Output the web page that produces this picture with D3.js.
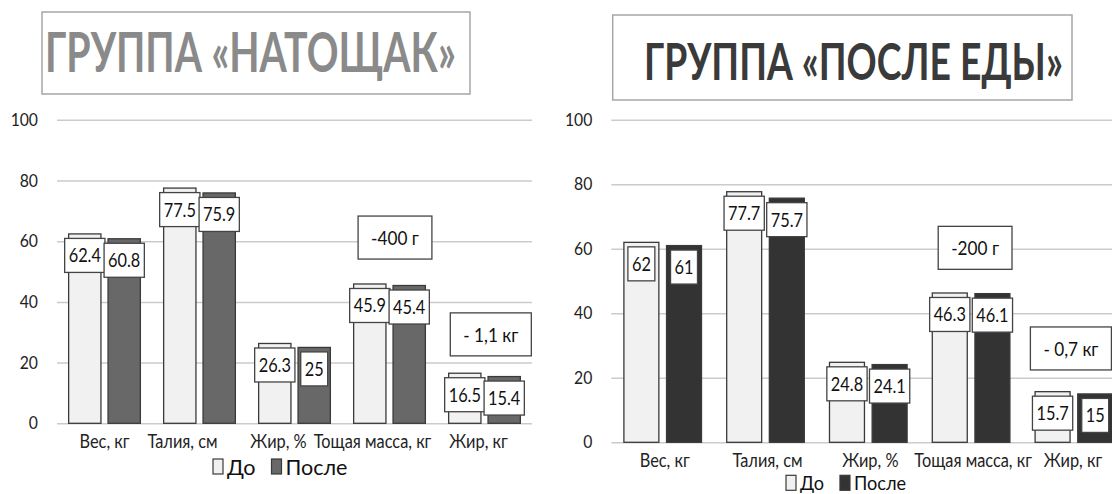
<!DOCTYPE html>
<html>
<head>
<meta charset="utf-8">
<script src="https://cdn.jsdelivr.net/npm/d3@7"></script>
<style>
  html, body { margin: 0; padding: 0; background: #fff; }
  svg { display: block; font-family: Lato, "Open Sans", sans-serif; }
</style>
</head>
<body>
<svg id="chart" width="1112" height="494"></svg>
<script>
// ---- data ----
const categories = ["Вес, кг", "Талия, см", "Жир, %", "Тощая масса, кг", "Жир, кг"];
const seriesNames = ["До", "После"];
const yTicks = [0, 20, 40, 60, 80, 100];

const fastingTitle = "ГРУППА «НАТОЩАК»";
const fastingBefore = [62.4, 77.5, 26.3, 45.9, 16.5];
const fastingAfter  = [60.8, 75.9, 25, 45.4, 15.4];

const fedTitle = "ГРУППА «ПОСЛЕ ЕДЫ»";
const fedBefore = [62, 77.7, 24.8, 46.3, 15.7];
const fedAfter  = [61, 75.7, 24.1, 46.1, 15];

// callouts: text, the category they sit over, and the value level they sit at
const noteCategories = ["Тощая масса, кг", "Жир, кг"];
const fastingNotes = ["-400 г", "- 1,1 кг"];
const fastingNoteLevels = [61.2, 29.3];
const fedNotes = ["-200 г", "- 0,7 кг"];
const fedNoteLevels = [60.3, 29.1];

// ---- layout / style of the two panels ----
const panels = [
  {
    title: fastingTitle, before: fastingBefore, after: fastingAfter,
    notes: fastingNotes, noteLevels: fastingNoteLevels,
    xRange: [57, 532], yRange: [423.3, 119.8],
    titleBox: { x: 42, y: 12, w: 428, h: 82 },
    titleText: { x: 45, base: 71.5, w: 411, size: 56, color: "#8a8a8a" },
    afterFill: "#686868",
    labelShift: [0, -17, -16, -17, -6], labelY: 441.5,
    legend: { x: 213, cy: 466.5, size: 22 },
    noteDx: [5.5, 6.3]
  },
  {
    title: fedTitle, before: fedBefore, after: fedAfter,
    notes: fedNotes, noteLevels: fedNoteLevels,
    xRange: [611.3, 1125.3], yRange: [442.3, 119.8],
    titleBox: { x: 612.7, y: 15, w: 459.3, h: 85 },
    titleText: { x: 644, base: 79.5, w: 419, size: 51, color: "#3a3a3a" },
    afterFill: "#333333",
    labelShift: [2, 2, 2, 2, -1], labelY: 460,
    legend: { x: 786, cy: 482.8, size: 18.5 },
    noteDx: [4, -3]
  }
];

// narrow a text horizontally by k around its own anchor point
function squeeze(sel, k) {
  sel.each(function () {
    const t = d3.select(this);
    const x = +(t.attr("x") || 0);
    const dxAttr = t.attr("dx");
    const dx = dxAttr ? parseFloat(dxAttr) : 0;
    t.attr("x", x / k).attr("dx", dx / k).attr("transform", `scale(${k},1)`);
    this.__w = this.getComputedTextLength() * k;
  });
}

const svg = d3.select("#chart");

panels.forEach(p => {
  const g = svg.append("g");

  const x0 = d3.scaleBand().domain(categories).range(p.xRange)
    .paddingInner(0.245).paddingOuter(0.1225);
  const x1 = d3.scaleBand().domain(seriesNames).range([0, x0.bandwidth()]).paddingInner(0.18);
  const y = d3.scaleLinear().domain([0, 100]).range(p.yRange);

  // title
  g.append("rect")
    .attr("x", p.titleBox.x).attr("y", p.titleBox.y)
    .attr("width", p.titleBox.w).attr("height", p.titleBox.h)
    .attr("fill", "#fff").attr("stroke", "#a6a6a6").attr("stroke-width", 1.5);
  const tg = g.append("g").attr("transform", `translate(${p.titleText.x},${p.titleText.base})`);
  const tt = tg.append("text")
    .attr("font-size", p.titleText.size).attr("font-weight", 700)
    .attr("fill", p.titleText.color)
    .text(p.title);
  tt.call(squeeze, p.titleText.w / tt.node().getComputedTextLength());

  // value axis with gridlines
  const plotW = p.xRange[1] - p.xRange[0];
  const yAxis = g.append("g")
    .attr("transform", `translate(${p.xRange[0]},0)`)
    .call(d3.axisLeft(y).tickValues(yTicks).tickSize(-plotW).tickPadding(19));
  yAxis.select(".domain").remove();
  yAxis.selectAll(".tick line").attr("stroke", "#cbcbcb").attr("stroke-width", 1.5);
  yAxis.selectAll(".tick text")
    .attr("font-family", "Lato, 'Open Sans', sans-serif")
    .attr("font-size", 17.5).attr("fill", "#222")
    .call(squeeze, 0.9);

  // category axis
  const xAxis = g.append("g")
    .attr("transform", `translate(0,${p.labelY})`)
    .call(d3.axisBottom(x0).tickSize(0).tickPadding(0));
  xAxis.select(".domain").remove();
  xAxis.selectAll(".tick text")
    .attr("font-family", "Lato, 'Open Sans', sans-serif")
    .attr("font-size", 19).attr("fill", "#222")
    .attr("y", 0).attr("dy", null)
    .attr("dominant-baseline", "central")
    .attr("dx", (d, i) => p.labelShift[i])
    .call(squeeze, 0.86);

  // bars
  const rows = categories.map((c, i) => ({ cat: c, vals: [
    { s: "До", v: p.before[i] }, { s: "После", v: p.after[i] }] }));
  const fills = { "До": "#f1f1f1", "После": p.afterFill };

  const groups = g.append("g").selectAll("g").data(rows).join("g")
    .attr("transform", d => `translate(${x0(d.cat)},0)`);

  groups.selectAll("rect").data(d => d.vals).join("rect")
    .attr("x", d => x1(d.s)).attr("width", x1.bandwidth())
    .attr("y", d => y(d.v)).attr("height", d => y(0) - y(d.v))
    .attr("fill", d => fills[d.s]).attr("stroke", "#3a3a3a").attr("stroke-width", 1.3);

  // value labels in boxes near the bar tops
  const lab = groups.selectAll("g.lab").data(d => d.vals).join("g").attr("class", "lab")
    .attr("transform", d => `translate(${x1(d.s) + x1.bandwidth() / 2},${y(d.v) + 21.5})`);
  lab.append("rect").attr("fill", "#fff").attr("stroke", "#444").attr("stroke-width", 1.3);
  lab.append("text")
    .attr("text-anchor", "middle").attr("dominant-baseline", "central")
    .attr("font-size", 19).attr("fill", "#111")
    .text(d => d.v)
    .call(squeeze, 0.86);
  lab.each(function () {
    const w = d3.select(this).select("text").node().__w;
    d3.select(this).select("rect")
      .attr("x", -w / 2 - 4).attr("y", -17).attr("width", w + 8).attr("height", 34);
  });

  // callouts
  p.notes.forEach((txt, i) => {
    const cx = x0(noteCategories[i]) + x0.bandwidth() / 2 + p.noteDx[i];
    const ng = g.append("g").attr("transform", `translate(${cx},${y(p.noteLevels[i])})`);
    const r = ng.append("rect").attr("fill", "#fff").attr("stroke", "#444").attr("stroke-width", 1.3);
    const t = ng.append("text")
      .attr("text-anchor", "middle").attr("dominant-baseline", "central")
      .attr("font-size", 20).attr("fill", "#111").text(txt).call(squeeze, 0.86);
    const w = t.node().__w;
    r.attr("x", -w / 2 - 13).attr("y", -21.5).attr("width", w + 26).attr("height", 43);
  });

  // legend
  const lg = g.append("g").attr("transform", `translate(${p.legend.x},${p.legend.cy})`);
  let lx = 0;
  seriesNames.forEach(s => {
    lg.append("rect").attr("x", lx).attr("y", -7.5).attr("width", 10).attr("height", 15)
      .attr("fill", fills[s]).attr("stroke", "#3a3a3a").attr("stroke-width", 1.2);
    const t = lg.append("text").attr("x", lx + 14).attr("dominant-baseline", "central")
      .attr("font-size", p.legend.size).attr("fill", "#111").text(s).call(squeeze, 0.98);
    lx += 14 + t.node().__w + 16;
  });
});
</script>
</body>
</html>
